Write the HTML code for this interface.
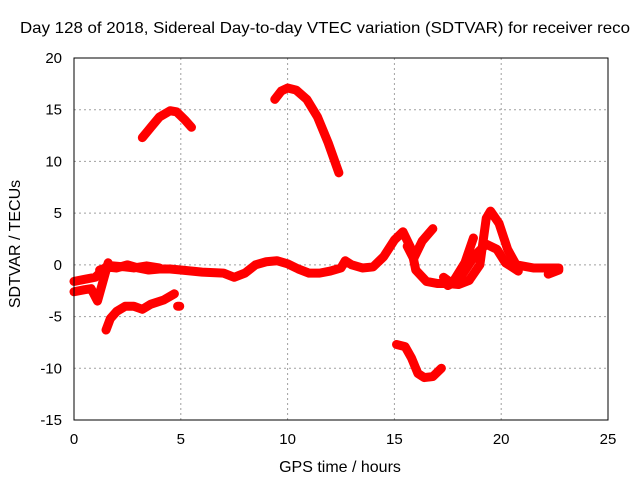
<!DOCTYPE html>
<html><head><meta charset="utf-8"><style>
body{margin:0;background:#fff;width:640px;height:480px;overflow:hidden;font-family:"Liberation Sans",sans-serif}
</style></head><body>
<svg id="chart" width="640" height="480" viewBox="0 0 640 480" font-family="Liberation Sans, sans-serif" font-size="16">
<rect width="640" height="480" fill="#fff"/>
<text x="20" y="33" font-size="16" textLength="610" lengthAdjust="spacingAndGlyphs">Day 128 of 2018, Sidereal Day-to-day VTEC variation (SDTVAR) for receiver reco</text>
<g id="grid"></g><g id="ticks"></g><g id="series"></g>
<rect x="74" y="58" width="534" height="362" fill="none" stroke="#000" stroke-width="1"/>
<text x="340" y="472" text-anchor="middle" font-size="16">GPS time / hours</text>
<text transform="translate(20,244) rotate(-90)" text-anchor="middle" font-size="16">SDTVAR / TECUs</text>
</svg>
<script>
const xTicks=[0,5,10,15,20,25];
const yTicks=[20,15,10,5,0,-5,-10,-15];
const seriesArc1=[[3.2,12.3],[3.6,13.3],[4.0,14.3],[4.5,14.9],[4.8,14.8],[5.2,14.0],[5.5,13.3]];
const seriesArc2=[[9.4,16.0],[9.7,16.8],[10.0,17.1],[10.4,16.9],[10.9,16.0],[11.4,14.3],[11.9,11.8],[12.4,8.9]];
const seriesLow=[[15.1,-7.7],[15.5,-7.9],[15.8,-9.0],[16.1,-10.5],[16.4,-10.9],[16.8,-10.8],[17.2,-10.0]];
const seriesNeg=[[1.5,-6.3],[1.7,-5.2],[2.0,-4.5],[2.4,-4.0],[2.8,-4.0],[3.2,-4.3],[3.6,-3.8],[4.2,-3.4],[4.7,-2.8]];
const seriesDot=[[4.85,-4.0],[4.95,-4.0]];
const seriesMain=[[0,-1.6],[0.5,-1.4],[1.0,-1.2],[1.5,-0.2],[2.0,-0.3],[2.5,0],[3,-0.3],[3.5,-0.5],[4,-0.4],[4.5,-0.4],[5,-0.5],[6,-0.7],[7,-0.8],[7.5,-1.2],[8,-0.8],[8.5,0],[9,0.3],[9.5,0.4],[10,0.1],[10.5,-0.4],[11,-0.8],[11.5,-0.8],[12,-0.6],[12.5,-0.3],[12.7,0.4],[13,0],[13.5,-0.3],[14,-0.2],[14.5,0.8],[15,2.4],[15.4,3.2],[15.8,1.5],[16,-0.5],[16.5,-1.6],[17,-1.8],[17.5,-1.8],[18,-1.9],[18.5,-1.5]];
const seriesEarly=[[0,-2.6],[0.5,-2.4],[0.8,-2.3],[1.1,-3.5],[1.6,0.2]];
const seriesEarly2=[[1.2,-0.5],[1.8,-0.1],[2.4,-0.2],[2.8,-0.3],[3.4,-0.1],[4.0,-0.3]];
const seriesPeak=[[18.5,-1.5],[19,0],[19.3,4.5],[19.5,5.2],[19.9,4.0],[20.3,1.5],[20.7,0],[21.5,-0.3],[22,-0.3],[22.7,-0.3]];
const seriesPeak2=[[17.5,-2.0],[18,-1.5],[18.8,1.0],[19.3,2.0],[19.8,1.5],[20.2,0.2],[20.8,-0.6]];
const seriesBranch=[[15.6,1.8],[15.9,0.6],[16.3,2.3],[16.8,3.5]];
const seriesBranch2=[[17.3,-1.2],[17.7,-1.8],[18.3,0.2],[18.7,2.6]];
const seriesTail=[[22.2,-0.9],[22.7,-0.5]];
const allSeries=[seriesArc1,seriesArc2,seriesLow,seriesNeg,seriesDot,seriesMain,seriesEarly,seriesEarly2,seriesPeak,seriesPeak2,seriesBranch,seriesBranch2,seriesTail];
const X=h=>74+h*534/25, Y=v=>58+(20-v)*362/35;
const NS="http://www.w3.org/2000/svg";
const g=document.getElementById('grid'),t=document.getElementById('ticks'),s=document.getElementById('series');
function mk(tag,at,p){const e=document.createElementNS(NS,tag);for(const k in at)e.setAttribute(k,at[k]);p.appendChild(e);return e;}
xTicks.forEach(v=>{
 const l=mk('line',{x1:X(v),x2:X(v),y1:58,y2:420,stroke:'#a0a0a0','stroke-dasharray':'2,3'},g);
 
 
 const tx=mk('text',{x:X(v),y:444,'text-anchor':'middle','font-size':15},t);tx.textContent=v;
 
 
});
yTicks.forEach(v=>{
 const l=mk('line',{x1:74,x2:608,y1:Y(v),y2:Y(v),stroke:'#a0a0a0','stroke-dasharray':'2,3'},g);
 
 
 const tx=mk('text',{x:62,y:Y(v)+5,'text-anchor':'end','font-size':15},t);tx.textContent=v;
 
 
});
allSeries.forEach(d=>{
 const p=mk('polyline',{points:d.map(q=>X(q[0])+','+Y(q[1])).join(' '),fill:'none',stroke:'#ff0000','stroke-width':9,'stroke-linejoin':'round','stroke-linecap':'round'},s);
 
 
});
</script>
</body></html>
